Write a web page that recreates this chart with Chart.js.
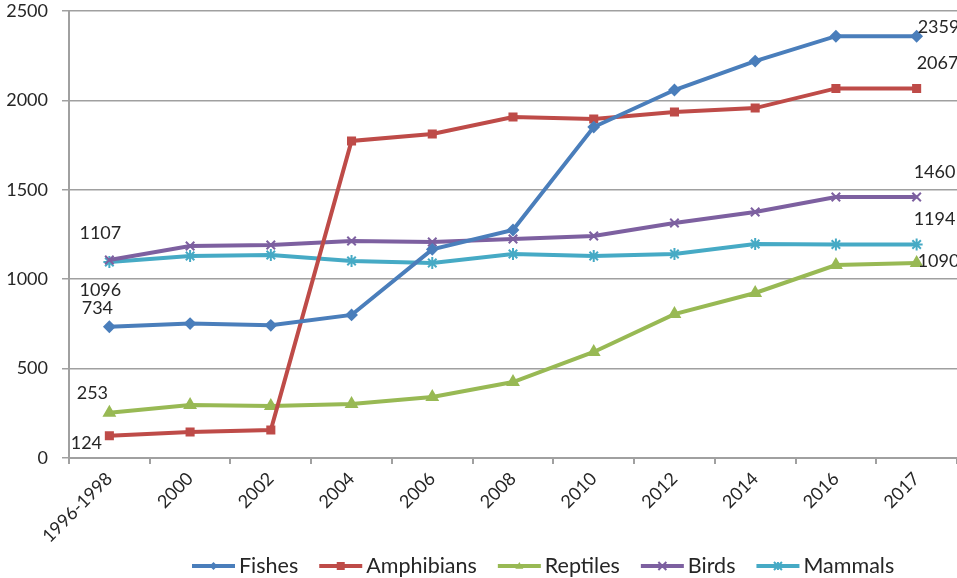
<!DOCTYPE html>
<html>
<head>
<meta charset="utf-8">
<script src="https://cdn.jsdelivr.net/npm/chart.js@4/dist/chart.umd.min.js"></script>
<style>
  html, body { margin: 0; padding: 0; background: #fff; }
</style>
</head>
<body>
<canvas id="chart" width="957" height="578"></canvas>
<script>
const categories = ['1996-1998', '2000', '2002', '2004', '2006', '2008', '2010', '2012', '2014', '2016', '2017'];
const fishes     = [734, 752, 742, 800, 1167, 1275, 1851, 2058, 2220, 2359, 2359];
const amphibians = [124, 145, 157, 1773, 1812, 1907, 1896, 1935, 1957, 2067, 2067];
const reptiles   = [253, 296, 291, 302, 341, 425, 593, 805, 923, 1079, 1090];
const birds      = [1107, 1186, 1191, 1214, 1208, 1225, 1242, 1314, 1376, 1460, 1460];
const mammals    = [1096, 1130, 1135, 1102, 1091, 1141, 1130, 1141, 1197, 1194, 1194];
const yTicks     = [0, 500, 1000, 1500, 2000, 2500];

const FONT = 'Lato, "Open Sans", sans-serif';
const TEXT = '#262626';
const GRID = '#a0a0a0';

// where the first / last value labels sit, relative to their point
const firstLabel = [[-12, -19], [-23, 7], [-17, -20], [-9, -27], [-9, 28]];
const lastLabel  = [[1, -9], [0, -25], [1, -2], [-3, -25], [-3, -25]];

function series(label, data, color, pointStyle, radius) {
  return {
    label, data,
    borderColor: color, backgroundColor: color,
    pointBorderColor: color, pointBackgroundColor: color,
    borderWidth: 4, tension: 0,
    pointStyle, pointRadius: radius, pointBorderWidth: 2
  };
}

const valueLabels = {
  id: 'valueLabels',
  afterDatasetsDraw(chart) {
    const ctx = chart.ctx;
    ctx.save();
    ctx.font = '18px ' + FONT;
    ctx.fillStyle = TEXT;
    ctx.textBaseline = 'middle';
    chart.data.datasets.forEach((ds, i) => {
      const pts = chart.getDatasetMeta(i).data;
      const a = pts[0], b = pts[pts.length - 1];
      ctx.textAlign = 'center';
      ctx.fillText(String(ds.data[0]), a.x + firstLabel[i][0], a.y + firstLabel[i][1]);
      ctx.textAlign = 'left';
      ctx.fillText(String(ds.data[ds.data.length - 1]), b.x + lastLabel[i][0], b.y + lastLabel[i][1]);
    });
    ctx.restore();
  }
};

function drawMarker(ctx, style, x, y, r, color) {
  ctx.save();
  ctx.fillStyle = color;
  ctx.strokeStyle = color;
  ctx.lineWidth = 2;
  ctx.beginPath();
  if (style === 'rectRot') {
    ctx.moveTo(x, y - r); ctx.lineTo(x + r, y); ctx.lineTo(x, y + r); ctx.lineTo(x - r, y); ctx.closePath(); ctx.fill();
  } else if (style === 'rect') {
    ctx.rect(x - r, y - r, 2 * r, 2 * r); ctx.fill();
  } else if (style === 'triangle') {
    ctx.moveTo(x, y - r); ctx.lineTo(x + r, y + r * 0.7); ctx.lineTo(x - r, y + r * 0.7); ctx.closePath(); ctx.fill();
  } else if (style === 'crossRot') {
    ctx.moveTo(x - r, y - r); ctx.lineTo(x + r, y + r); ctx.moveTo(x + r, y - r); ctx.lineTo(x - r, y + r); ctx.stroke();
  } else {
    ctx.moveTo(x - r, y - r); ctx.lineTo(x + r, y + r); ctx.moveTo(x + r, y - r); ctx.lineTo(x - r, y + r);
    ctx.moveTo(x, y - r); ctx.lineTo(x, y + r); ctx.stroke();
  }
  ctx.restore();
}

const bottomLegend = {
  id: 'bottomLegend',
  afterDraw(chart) {
    const ctx = chart.ctx;
    ctx.save();
    ctx.font = '21.5px ' + FONT;
    const lineW = 43, gapText = 4, gapItem = 21;
    let x = 192;
    const y = 566;
    chart.data.datasets.forEach(ds => {
      const c = ds.borderColor;
      ctx.strokeStyle = c;
      ctx.lineWidth = 4;
      ctx.beginPath(); ctx.moveTo(x, y); ctx.lineTo(x + lineW, y); ctx.stroke();
      drawMarker(ctx, ds.pointStyle, x + lineW / 2, y, 4, c);
      ctx.fillStyle = TEXT;
      ctx.textAlign = 'left';
      ctx.textBaseline = 'middle';
      ctx.fillText(ds.label, x + lineW + gapText, y);
      x += lineW + gapText + ctx.measureText(ds.label).width + gapItem;
    });
    ctx.restore();
  }
};

new Chart(document.getElementById('chart'), {
  type: 'line',
  data: {
    labels: categories,
    datasets: [
      series('Fishes', fishes, '#4a7ebb', 'rectRot', 5),
      series('Amphibians', amphibians, '#be4b48', 'rect', 5),
      series('Reptiles', reptiles, '#98b954', 'triangle', 6),
      series('Birds', birds, '#7d60a0', 'crossRot', 6),
      series('Mammals', mammals, '#46aac5', 'star', 6)
    ]
  },
  options: {
    responsive: false,
    animation: false,
    layout: { autoPadding: false, padding: { top: 11, right: 0, bottom: 0, left: 0 } },
    plugins: { legend: { display: false }, tooltip: { enabled: false } },
    scales: {
      x: {
        offset: true,
        afterFit(scale) { scale.height = 120; scale.paddingLeft = 0; scale.paddingRight = 0; },
        grid: { display: true, offset: true, drawOnChartArea: false, drawTicks: true, tickLength: 6, color: GRID, lineWidth: 2 },
        border: { display: true, color: GRID, width: 2 },
        ticks: { color: TEXT, font: { family: FONT, size: 18 }, minRotation: 45, maxRotation: 45, padding: 4, autoSkip: false }
      },
      y: {
        min: 0, max: 2500,
        afterFit(scale) { scale.width = 69; scale.paddingTop = 0; scale.paddingBottom = 0; },
        afterBuildTicks(scale) { scale.ticks = yTicks.map(v => ({ value: v })); },
        grid: { color: GRID, lineWidth: 1.5, drawTicks: true, tickLength: 7 },
        border: { display: true, color: GRID, width: 2 },
        ticks: { color: TEXT, font: { family: FONT, size: 18 }, padding: 14, callback: v => String(v) }
      }
    }
  },
  plugins: [valueLabels, bottomLegend]
});
</script>
</body>
</html>
